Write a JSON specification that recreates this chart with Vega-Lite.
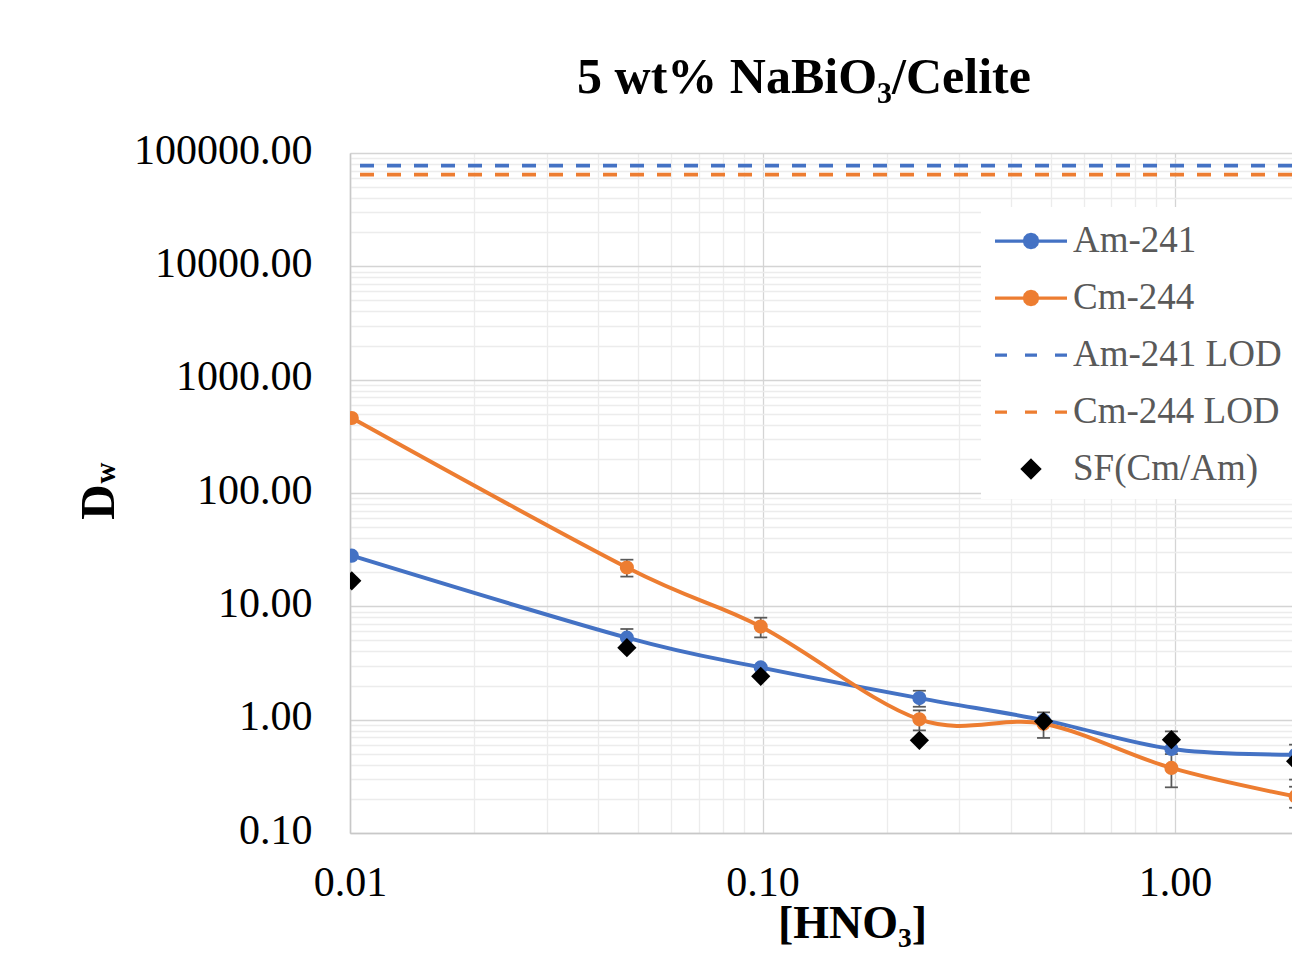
{
  "$schema": "https://vega.github.io/schema/vega-lite/v6.json",
  "autosize": {"type": "none"},
  "width": 942,
  "height": 680,
  "padding": {"left": 350, "top": 153, "right": 0, "bottom": 129},
  "background": "white",
  "title": {"text": "5 wt% NaBiO₃/Celite", "font": "Liberation Serif", "fontSize": 50, "fontWeight": "bold", "color": "black", "anchor": "middle", "frame": "group", "dx": -17, "dy": 54, "offset": 40, "baseline": "alphabetic"},
  "data": {"values": [
    {"series": "Am-241", "x": 0.0101, "v": 28.0},
    {"series": "Am-241", "x": 0.0469, "v": 5.29, "lo": 4.27, "hi": 6.31},
    {"series": "Am-241", "x": 0.099, "v": 2.89},
    {"series": "Am-241", "x": 0.24, "v": 1.55, "lo": 1.30, "hi": 1.80},
    {"series": "Am-241", "x": 0.48, "v": 0.99},
    {"series": "Am-241", "x": 0.98, "v": 0.551},
    {"series": "Am-241", "x": 1.96, "v": 0.49},
    {"series": "Cm-244", "x": 0.0101, "v": 459},
    {"series": "Cm-244", "x": 0.0469, "v": 22.0, "lo": 18.3, "hi": 25.8},
    {"series": "Cm-244", "x": 0.099, "v": 6.63, "lo": 5.32, "hi": 7.94},
    {"series": "Cm-244", "x": 0.24, "v": 1.006, "lo": 0.804, "hi": 1.208},
    {"series": "Cm-244", "x": 0.48, "v": 0.92, "lo": 0.69, "hi": 1.16},
    {"series": "Cm-244", "x": 0.98, "v": 0.375, "lo": 0.253, "hi": 0.497},
    {"series": "Cm-244", "x": 1.96, "v": 0.21, "lo": 0.167, "hi": 0.256},
    {"series": "SF(Cm/Am)", "x": 0.0101, "v": 16.8},
    {"series": "SF(Cm/Am)", "x": 0.0469, "v": 4.32},
    {"series": "SF(Cm/Am)", "x": 0.099, "v": 2.41},
    {"series": "SF(Cm/Am)", "x": 0.24, "v": 0.657},
    {"series": "SF(Cm/Am)", "x": 0.48, "v": 0.966},
    {"series": "SF(Cm/Am)", "x": 0.98, "v": 0.666, "lo": 0.546, "hi": 0.788},
    {"series": "SF(Cm/Am)", "x": 1.96, "v": 0.43, "lo": 0.296, "hi": 0.602},
    {"series": "Am-241 LOD", "v": 77270},
    {"series": "Cm-244 LOD", "v": 64420}
  ]},
  "resolve": {"axis": {"y": "independent"}},
  "config": {
    "view": {"stroke": null},
    "axis": {"labelFont": "Liberation Serif", "labelFontSize": 42, "labelColor": "black", "titleFont": "Liberation Serif", "titleFontWeight": "bold", "titleColor": "black", "ticks": false, "domainColor": "#c8c8c8", "domainWidth": 1.5, "gridWidth": 1.3, "labelFlush": false, "labelOverlap": false},
    "legend": {"labelFont": "Liberation Serif", "labelFontSize": 37, "labelColor": "#595959", "labelLimit": 0, "symbolSize": 1600, "symbolStrokeWidth": 3.25, "rowPadding": 17, "padding": 12, "fillColor": "white", "labelOffset": 20, "symbolOffset": 16}
  },
  "layer": [
    {
      "transform": [{"filter": "datum.series == 'Am-241' || datum.series == 'Cm-244'"}],
      "mark": {"type": "line", "interpolate": "cardinal", "strokeWidth": 4, "clip": true},
      "encoding": {
        "x": {"field": "x", "type": "quantitative",
          "scale": {"type": "log", "domain": [0.01, 1.921], "nice": false},
          "axis": {
            "values": [0.01,0.02,0.03,0.04,0.05,0.06,0.07,0.08,0.09,0.1,0.2,0.3,0.4,0.5,0.6,0.7,0.8,0.9,1],
            "labelExpr": "abs(log(datum.value)/LN10 - round(log(datum.value)/LN10)) < 0.001 ? format(datum.value, '.2f') : ''",
            "gridColor": {"condition": {"test": "abs(log(datum.value)/LN10 - round(log(datum.value)/LN10)) < 0.001", "value": "#d4d4d4"}, "value": "#ececec"},
            "labelPadding": 29,
            "title": "[HNO₃]", "titleFontSize": 46, "titleX": 502, "titleY": 104, "titleAlign": "center", "titleBaseline": "alphabetic"
          }
        },
        "y": {"field": "v", "type": "quantitative",
          "scale": {"type": "log", "domain": [0.1, 100000], "nice": false},
          "axis": {
            "orient": "left",
            "values": [0.1,0.2,0.3,0.4,0.5,0.6,0.7,0.8,0.9,1,2,3,4,5,6,7,8,9,10,20,30,40,50,60,70,80,90,100,200,300,400,500,600,700,800,900,1000,2000,3000,4000,5000,6000,7000,8000,9000,10000,20000,30000,40000,50000,60000,70000,80000,90000,100000],
            "labelExpr": "abs(log(datum.value)/LN10 - round(log(datum.value)/LN10)) < 0.001 ? format(datum.value, '.2f') : ''",
            "gridColor": {"condition": {"test": "abs(log(datum.value)/LN10 - round(log(datum.value)/LN10)) < 0.001", "value": "#d4d4d4"}, "value": "#ececec"},
            "labelPadding": 38,
            "labelOffset": -3,
            "title": "D", "titleFontSize": 49, "titleAngle": -90, "titleX": -237, "titleY": 348.5, "titleAlign": "center", "titleBaseline": "alphabetic"
          }
        },
        "stroke": {"field": "series", "type": "nominal",
          "scale": {"domain": ["Am-241", "Cm-244", "Am-241 LOD", "Cm-244 LOD", "SF(Cm/Am)"], "range": ["#4472C4", "#ED7D31", "#4472C4", "#ED7D31", "black"]},
          "legend": {"title": null, "orient": "none", "legendX": 631, "legendY": 54}
        }
      }
    },
    {
      "transform": [{"filter": "indexof(datum.series, 'LOD') >= 0"}],
      "mark": {"type": "rule", "strokeDash": [14, 13], "strokeWidth": 3.75},
      "encoding": {
        "y": {"field": "v", "type": "quantitative",
          "scale": {"type": "log", "domain": [0.1, 100000], "nice": false},
          "axis": {"orient": "left", "labels": false, "ticks": false, "domain": false, "grid": false,
            "title": "w", "titleFontSize": 29, "titleAngle": -90, "titleX": -236, "titleY": 319.5, "titleAlign": "center", "titleBaseline": "alphabetic"}
        },
        "stroke": {"field": "series", "type": "nominal",
          "scale": {"domain": ["Am-241", "Cm-244", "Am-241 LOD", "Cm-244 LOD", "SF(Cm/Am)"], "range": ["#4472C4", "#ED7D31", "#4472C4", "#ED7D31", "black"]},
          "legend": {"title": null, "orient": "none", "legendX": 631, "legendY": 54}
        }
      }
    },
    {
      "transform": [{"filter": "isValid(datum.lo)"}],
      "mark": {"type": "rule", "color": "#595959", "strokeWidth": 1.75, "clip": true},
      "encoding": {
        "x": {"field": "x", "type": "quantitative", "scale": {"type": "log", "domain": [0.01, 1.921], "nice": false}},
        "y": {"field": "lo", "type": "quantitative", "scale": {"type": "log", "domain": [0.1, 100000], "nice": false}, "axis": null},
        "y2": {"field": "hi"}
      }
    },
    {
      "transform": [{"filter": "isValid(datum.lo)"}, {"fold": ["lo", "hi"], "as": ["bound", "bv"]}],
      "mark": {"type": "tick", "orient": "horizontal", "color": "#595959", "thickness": 1.75, "size": 13, "opacity": 1, "clip": true},
      "encoding": {
        "x": {"field": "x", "type": "quantitative", "scale": {"type": "log", "domain": [0.01, 1.921], "nice": false}},
        "y": {"field": "bv", "type": "quantitative", "scale": {"type": "log", "domain": [0.1, 100000], "nice": false}, "axis": null}
      }
    },
    {
      "transform": [{"filter": "datum.series == 'Am-241' || datum.series == 'Cm-244'"}],
      "mark": {"type": "point", "filled": true, "size": 200, "opacity": 1, "clip": true},
      "encoding": {
        "x": {"field": "x", "type": "quantitative", "scale": {"type": "log", "domain": [0.01, 1.921], "nice": false}},
        "y": {"field": "v", "type": "quantitative", "scale": {"type": "log", "domain": [0.1, 100000], "nice": false}, "axis": null},
        "fill": {"field": "series", "type": "nominal",
          "scale": {"domain": ["Am-241", "Cm-244", "Am-241 LOD", "Cm-244 LOD", "SF(Cm/Am)"], "range": ["#4472C4", "#ED7D31", "#4472C4", "#ED7D31", "black"]},
          "legend": {"title": null, "orient": "none", "legendX": 631, "legendY": 54}
        }
      }
    },
    {
      "transform": [{"filter": "datum.series == 'SF(Cm/Am)'"}],
      "mark": {"type": "point", "filled": true, "size": 2100, "opacity": 1, "clip": true},
      "encoding": {
        "x": {"field": "x", "type": "quantitative", "scale": {"type": "log", "domain": [0.01, 1.921], "nice": false}},
        "y": {"field": "v", "type": "quantitative", "scale": {"type": "log", "domain": [0.1, 100000], "nice": false}, "axis": null},
        "fill": {"field": "series", "type": "nominal",
          "scale": {"domain": ["Am-241", "Cm-244", "Am-241 LOD", "Cm-244 LOD", "SF(Cm/Am)"], "range": ["#4472C4", "#ED7D31", "#4472C4", "#ED7D31", "black"]},
          "legend": {"title": null, "orient": "none", "legendX": 631, "legendY": 54}
        },
        "shape": {"field": "series", "type": "nominal",
          "scale": {"domain": ["Am-241", "Cm-244", "Am-241 LOD", "Cm-244 LOD", "SF(Cm/Am)"],
            "range": [
              "M-1.8,0H1.8M0.33,0L0.286,0.165L0.165,0.286L0,0.33L-0.165,0.286L-0.286,0.165L-0.33,0L-0.286,-0.165L-0.165,-0.286L0,-0.33L0.165,-0.286L0.286,-0.165Z",
              "M-1.8,0H1.8M0.33,0L0.286,0.165L0.165,0.286L0,0.33L-0.165,0.286L-0.286,0.165L-0.33,0L-0.286,-0.165L-0.165,-0.286L0,-0.33L0.165,-0.286L0.286,-0.165Z",
              "M-1.8,0H-1.2M-0.3,0H0.3M1.2,0H1.8",
              "M-1.8,0H-1.2M-0.3,0H0.3M1.2,0H1.8",
              "M0,-0.42L0.42,0L0,0.42L-0.42,0Z"
            ]},
          "legend": {"title": null, "orient": "none", "legendX": 631, "legendY": 54}
        }
      }
    }
  ]
}
